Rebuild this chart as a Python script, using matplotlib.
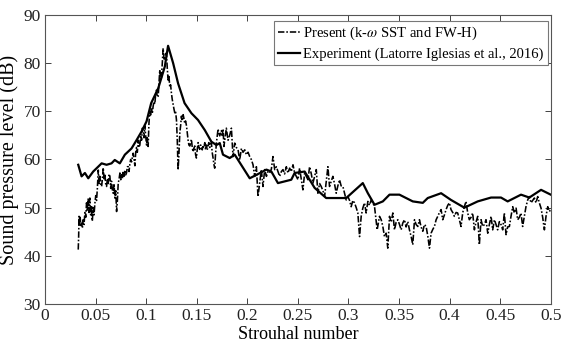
import matplotlib
matplotlib.use("Agg")
import matplotlib.pyplot as plt

plt.rcParams['font.family'] = ['Liberation Serif', 'DejaVu Serif']
plt.rcParams['mathtext.fontset'] = 'stix'

# Present (k-omega SST and FW-H) -- dashed line
present_st = [
    0.0329, 0.0333, 0.0337, 0.0342, 0.0348, 0.0355, 0.0362, 0.0370, 0.0378, 0.0386,
    0.0395, 0.0403, 0.0411, 0.0419, 0.0427, 0.0435, 0.0444, 0.0452, 0.0460, 0.0468,
    0.0477, 0.0485, 0.0494, 0.0502, 0.0510, 0.0518, 0.0527, 0.0535, 0.0543, 0.0552,
    0.0560, 0.0568, 0.0576, 0.0584, 0.0592, 0.0600, 0.0609, 0.0617, 0.0625, 0.0634,
    0.0642, 0.0650, 0.0658, 0.0667, 0.0675, 0.0683, 0.0691, 0.0700, 0.0708, 0.0716,
    0.0724, 0.0733, 0.0741, 0.0749, 0.0757, 0.0765, 0.0773, 0.0781, 0.0790, 0.0798,
    0.0806, 0.0815, 0.0823, 0.0831, 0.0839, 0.0847, 0.0856, 0.0864, 0.0872, 0.0880,
    0.0889, 0.0897, 0.0905, 0.0913, 0.0922, 0.0930, 0.0938, 0.0946, 0.0955, 0.0963,
    0.0971, 0.0979, 0.0987, 0.0995, 0.1004, 0.1012, 0.1020, 0.1028, 0.1036, 0.1045,
    0.1053, 0.1061, 0.1069, 0.1077, 0.1086, 0.1094, 0.1102, 0.1110, 0.1119, 0.1127,
    0.1135, 0.1143, 0.1151, 0.1160, 0.1168, 0.1176, 0.1185, 0.1193, 0.1201, 0.1209,
    0.1217, 0.1225, 0.1234, 0.1242, 0.1250, 0.1258, 0.1267, 0.1275, 0.1283, 0.1291,
    0.1300, 0.1308, 0.1316, 0.1324, 0.1333, 0.1341, 0.1349, 0.1357, 0.1366, 0.1374,
    0.1382, 0.1390, 0.1399, 0.1407, 0.1415, 0.1423, 0.1432, 0.1440, 0.1448, 0.1456,
    0.1464, 0.1472, 0.1481, 0.1489, 0.1497, 0.1505, 0.1514, 0.1522, 0.1530, 0.1539,
    0.1547, 0.1555, 0.1563, 0.1571, 0.1580, 0.1588, 0.1596, 0.1604, 0.1612, 0.1620,
    0.1629, 0.1637, 0.1645, 0.1653, 0.1662, 0.1670, 0.1678, 0.1686, 0.1695, 0.1703,
    0.1711, 0.1719, 0.1728, 0.1736, 0.1744, 0.1752, 0.1761, 0.1769, 0.1793, 0.1810,
    0.1826, 0.1843, 0.1859, 0.1876, 0.1892, 0.1909, 0.1925, 0.1942, 0.1958, 0.1975,
    0.1991, 0.2008, 0.2024, 0.2040, 0.2057, 0.2073, 0.2090, 0.2106, 0.2123, 0.2139,
    0.2155, 0.2172, 0.2189, 0.2205, 0.2221, 0.2238, 0.2254, 0.2271, 0.2287, 0.2304,
    0.2320, 0.2337, 0.2353, 0.2369, 0.2386, 0.2402, 0.2419, 0.2435, 0.2452, 0.2468,
    0.2485, 0.2501, 0.2517, 0.2533, 0.2550, 0.2567, 0.2583, 0.2600, 0.2616, 0.2633,
    0.2649, 0.2666, 0.2682, 0.2698, 0.2715, 0.2731, 0.2748, 0.2764, 0.2781, 0.2797,
    0.2813, 0.2830, 0.2846, 0.2862, 0.2879, 0.2895, 0.2912, 0.2928, 0.2945, 0.2961,
    0.2978, 0.2995, 0.3011, 0.3027, 0.3044, 0.3060, 0.3077, 0.3093, 0.3110, 0.3126,
    0.3142, 0.3159, 0.3175, 0.3192, 0.3208, 0.3225, 0.3241, 0.3258, 0.3284, 0.3307,
    0.3324, 0.3340, 0.3356, 0.3373, 0.3389, 0.3406, 0.3422, 0.3439, 0.3455, 0.3472,
    0.3488, 0.3505, 0.3521, 0.3537, 0.3554, 0.3570, 0.3587, 0.3603, 0.3620, 0.3636,
    0.3653, 0.3669, 0.3686, 0.3702, 0.3718, 0.3735, 0.3751, 0.3768, 0.3785, 0.3801,
    0.3817, 0.3834, 0.3850, 0.3867, 0.3883, 0.3900, 0.3916, 0.3932, 0.3949, 0.3965,
    0.3982, 0.3998, 0.4014, 0.4031, 0.4047, 0.4064, 0.4080, 0.4097, 0.4113, 0.4130,
    0.4146, 0.4162, 0.4179, 0.4195, 0.4212, 0.4228, 0.4245, 0.4261, 0.4278, 0.4294,
    0.4311, 0.4327, 0.4344, 0.4360, 0.4377, 0.4393, 0.4410, 0.4426, 0.4443, 0.4459,
    0.4475, 0.4492, 0.4508, 0.4525, 0.4541, 0.4558, 0.4574, 0.4591, 0.4607, 0.4624,
    0.4640, 0.4657, 0.4673, 0.4690, 0.4706, 0.4722, 0.4739, 0.4755, 0.4772, 0.4788,
    0.4805, 0.4821, 0.4838, 0.4854, 0.4871, 0.4887, 0.4904, 0.4920, 0.4937, 0.4953,
    0.4970, 0.4986, 0.5000,
]
present_db = [
    41.3, 44.0, 48.2, 46.5, 48.0, 46.0, 46.8, 45.8, 47.5, 46.5,
    49.0, 48.0, 51.0, 49.5, 51.8, 49.0, 52.0, 48.5, 50.5, 47.2,
    50.0, 48.5, 51.0, 52.5, 51.5, 54.0, 57.8, 55.0, 56.5, 54.8,
    54.4, 56.0, 58.3, 56.0, 57.0, 55.0, 54.4, 56.0, 55.0, 57.0,
    56.5, 54.0, 55.5, 53.5, 53.0, 55.0, 52.0, 53.5, 49.2, 51.5,
    55.0, 56.0, 57.2, 55.8, 57.0, 56.0, 57.6, 56.5, 57.8, 56.8,
    57.2, 58.5, 58.5, 57.5, 59.0, 60.0, 59.5, 60.5, 61.3, 60.0,
    58.7, 61.5, 62.5, 61.5, 64.0, 62.5, 63.0, 65.0, 64.0, 66.5,
    66.0, 64.5, 67.0, 65.0, 63.0, 64.5, 62.7, 67.5, 70.0, 69.0,
    70.5, 69.5, 71.0, 72.0, 71.5, 73.5, 74.4, 73.0, 73.0, 76.0,
    78.6, 76.5, 77.0, 80.0, 83.1, 81.0, 80.6, 82.0, 82.0, 79.0,
    76.5, 77.5, 75.0, 75.5, 73.8, 72.5, 71.4, 70.5, 69.7, 70.0,
    68.2, 64.0, 57.8, 61.0, 65.5, 67.0, 69.0, 68.0, 69.3, 68.5,
    67.5, 68.0, 67.0, 65.5, 64.0, 63.0, 62.8, 63.5, 64.2, 62.5,
    61.6, 62.3, 62.8, 61.0, 60.3, 62.0, 63.5, 62.5, 62.1, 63.0,
    62.8, 62.0, 63.0, 62.5, 63.5, 62.0, 63.0, 62.0, 62.8, 63.5,
    62.5, 63.0, 63.5, 61.5, 60.3, 59.0, 58.2, 61.0, 63.5, 65.0,
    66.3, 65.5, 64.9, 65.5, 66.0, 65.0, 66.3, 62.7, 66.5, 64.0,
    65.0, 66.5, 60.6, 63.4, 62.5, 62.0, 59.9, 62.3, 61.5, 62.0,
    61.0, 61.5, 60.6, 60.0, 58.9, 56.5, 58.5, 52.3, 55.1, 57.9,
    54.4, 57.9, 56.5, 57.5, 57.2, 58.0, 60.6, 57.9, 58.5, 57.5,
    56.5, 57.5, 57.9, 57.0, 58.5, 57.2, 58.2, 57.5, 58.9, 57.2,
    56.5, 55.8, 58.2, 56.0, 53.7, 57.2, 56.5, 55.8, 58.5, 57.0,
    55.1, 56.5, 57.9, 53.0, 55.0, 54.4, 53.5, 52.3, 55.5, 58.5,
    54.4, 55.5, 56.5, 55.0, 53.0, 54.5, 55.8, 54.5, 54.4, 53.0,
    51.6, 52.3, 51.5, 50.2, 51.5, 51.0, 50.0, 48.9, 44.0, 48.2,
    49.9, 51.0, 48.9, 51.3, 50.5, 51.6, 51.0, 50.2, 45.4, 48.2,
    47.5, 46.1, 44.0, 44.7, 41.6, 48.2, 47.0, 48.9, 45.4, 47.0,
    47.5, 46.5, 45.4, 46.8, 47.5, 46.0, 47.1, 45.4, 44.0, 42.3,
    47.5, 46.5, 46.1, 47.5, 46.0, 45.1, 46.5, 46.1, 44.0, 41.6,
    44.7, 45.5, 46.1, 47.5, 48.2, 49.0, 49.6, 47.5, 48.5, 49.6,
    50.5, 51.0, 49.6, 49.0, 48.2, 49.0, 48.9, 47.5, 46.1, 49.0,
    50.2, 51.3, 48.9, 47.5, 48.0, 48.9, 45.4, 47.0, 48.2, 42.3,
    47.5, 46.1, 46.5, 47.5, 44.7, 46.5, 48.2, 45.4, 47.5, 46.5,
    45.4, 47.1, 46.5, 45.4, 48.9, 44.4, 46.0, 46.1, 48.2, 50.2,
    48.9, 49.9, 47.5, 48.0, 48.9, 46.1, 48.2, 50.2, 51.6, 52.3,
    51.0, 51.5, 52.0, 51.0, 52.3, 51.0, 49.9, 48.0, 45.4, 48.2,
    50.2, 49.2, 49.6,
]

# Experiment (Latorre Iglesias et al., 2016) -- solid line
exp_st = [
    0.0329, 0.0362, 0.0395, 0.0428, 0.0477, 0.0526, 0.0560, 0.0609, 0.0658, 0.0690,
    0.0740, 0.0790, 0.0856, 0.0905, 0.0955, 0.1004, 0.1050, 0.1120, 0.1185, 0.1217,
    0.1267, 0.1316, 0.1380, 0.1448, 0.1513, 0.1580, 0.1645, 0.1695, 0.1728, 0.1760,
    0.1826, 0.1876, 0.2024, 0.2090, 0.2189, 0.2238, 0.2303, 0.2435, 0.2468, 0.2567,
    0.2666, 0.2780, 0.2978, 0.3142, 0.3192, 0.3258, 0.3340, 0.3406, 0.3504, 0.3636,
    0.3735, 0.3784, 0.3916, 0.4014, 0.4146, 0.4278, 0.4410, 0.4508, 0.4574, 0.4706,
    0.4788, 0.4904, 0.5000,
]
exp_db = [
    58.9, 56.5, 57.2, 56.1, 57.5, 58.5, 59.2, 58.9, 59.2, 59.9,
    59.2, 61.0, 62.3, 64.0, 65.8, 67.9, 71.7, 74.8, 79.3, 83.6,
    80.0, 75.8, 71.7, 69.6, 68.2, 66.1, 63.7, 63.0, 63.4, 61.0,
    60.3, 61.0, 56.1, 56.8, 57.9, 57.5, 55.1, 55.8, 57.2, 57.5,
    54.1, 52.0, 52.0, 55.1, 53.0, 50.6, 51.3, 52.7, 52.7, 51.3,
    51.0, 52.0, 53.0, 51.6, 50.0, 51.3, 52.1, 52.1, 51.3, 52.7,
    52.1, 53.7, 52.7,
]

xticks = [0, 0.05, 0.1, 0.15, 0.2, 0.25, 0.3, 0.35, 0.4, 0.45, 0.5]
xtick_labels = ['0', '0.05', '0.1', '0.15', '0.2', '0.25', '0.3', '0.35', '0.4', '0.45', '0.5']
yticks = [30, 40, 50, 60, 70, 80, 90]

fig = plt.figure(figsize=(5.62, 3.56), dpi=100)
ax = fig.add_axes([0.080, 0.146, 0.900, 0.812])

ax.plot(present_st, present_db, color='black', lw=1.15,
        linestyle=(0, (4, 1.2, 1, 1.2)),
        label=r'Present (k-$\omega$ SST and FW-H)')
ax.plot(exp_st, exp_db, color='black', lw=1.6, linestyle='-',
        label='Experiment (Latorre Iglesias et al., 2016)')

ax.set_xlim(0, 0.5)
ax.set_ylim(30, 90)
ax.set_xticks(xticks)
ax.set_xticklabels(xtick_labels)
ax.set_yticks(yticks)
ax.tick_params(direction='in', length=4, width=0.6, top=True, right=True,
               labelsize=12.5, pad=3, colors='#222222')
for s in ax.spines.values():
    s.set_linewidth(0.8)
    s.set_color('#555555')

ax.set_xlabel('Strouhal number', fontsize=13, labelpad=1)
ax.set_ylabel('Sound pressure level (dB)', fontsize=14.5, labelpad=3)

leg = ax.legend(loc='upper right', bbox_to_anchor=(0.994, 0.98), borderaxespad=0,
                fontsize=10.5, handlelength=1.5, handletextpad=0.2,
                labelspacing=0.35, borderpad=0.3, fancybox=False, framealpha=1)
leg.get_frame().set_edgecolor('#777777')
leg.get_frame().set_linewidth(0.8)

fig.savefig('out.png', dpi=100)
